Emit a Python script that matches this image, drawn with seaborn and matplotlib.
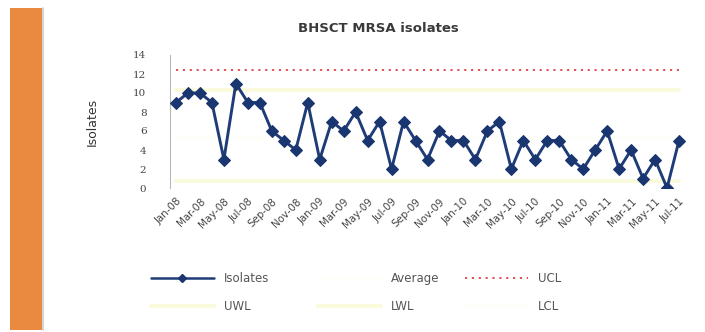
import matplotlib
matplotlib.use("Agg")
import matplotlib.pyplot as plt
from matplotlib.patches import Rectangle
from matplotlib.lines import Line2D
import numpy as np
import pandas as pd
import seaborn as sns

# Monthly MRSA isolates, Jan-08 .. Jul-11
months = ["Jan-08", "Feb-08", "Mar-08", "Apr-08", "May-08", "Jun-08", "Jul-08", "Aug-08",
          "Sep-08", "Oct-08", "Nov-08", "Dec-08", "Jan-09", "Feb-09", "Mar-09", "Apr-09",
          "May-09", "Jun-09", "Jul-09", "Aug-09", "Sep-09", "Oct-09", "Nov-09", "Dec-09",
          "Jan-10", "Feb-10", "Mar-10", "Apr-10", "May-10", "Jun-10", "Jul-10", "Aug-10",
          "Sep-10", "Oct-10", "Nov-10", "Dec-10", "Jan-11", "Feb-11", "Mar-11", "Apr-11",
          "May-11", "Jun-11", "Jul-11"]
isolates = [9, 10, 10, 9, 3, 11, 9, 9, 6, 5, 4, 9,
            3, 7, 6, 8, 5, 7, 2, 7, 5, 3, 6, 5,
            5, 3, 6, 7, 2, 5, 3, 5, 5, 3, 2, 4,
            6, 2, 4, 1, 3, 0, 5]

# Control chart levels
average_level = 5.3
ucl_level = 12.45
uwl_level = 10.3
lwl_level = 0.7
lcl_level = 0.0

y_ticks = [0, 2, 4, 6, 8, 10, 12, 14]

sns.set_theme(style="white")
plt.rcParams["font.family"] = ["DejaVu Sans"]

W, H = 705, 332
fig = plt.figure(figsize=(W / 100, H / 100), dpi=100)
fig.patch.set_facecolor("white")

# orange side band
fig.patches.append(Rectangle((10 / W, 1 - 330 / H), 32 / W, 322 / H,
                             transform=fig.transFigure, facecolor="#e98a40",
                             edgecolor="none", zorder=0))
fig.lines.append(Line2D([42.5 / W, 42.5 / W], [1 - 330 / H, 1 - 8 / H],
                        transform=fig.transFigure, color="#c9cdd3", lw=1.2))

ax = fig.add_axes([170 / W, 1 - 188 / H, 515 / W, 133 / H])

pos = np.arange(len(months))
df = pd.DataFrame({"pos": pos, "Isolates": isolates})
n = len(months)

levels = {
    "Average": (average_level, "#fefefa", "-", 2.5),
    "UCL": (ucl_level, "#d9454a", (0, (1.2, 2.6)), 1.3),
    "UWL": (uwl_level, "#fafadc", "-", 3.0),
    "LWL": (lwl_level, "#fafadc", "-", 3.0),
    "LCL": (lcl_level, "#fefefa", "-", 2.5),
}
handles = {}
for name, (lvl, col, ls, lw) in levels.items():
    sns.lineplot(x=pos, y=np.full(n, lvl), ax=ax, color=col, linestyle=ls,
                 linewidth=lw, zorder=1)
    handles[name] = Line2D([], [], color=col, linestyle=ls, linewidth=lw)

sns.lineplot(data=df, x="pos", y="Isolates", ax=ax, color="#1f3c78", linewidth=2.1,
             marker="D", markersize=6, markerfacecolor="#1a3670",
             markeredgecolor="#1a3670", zorder=3)
handles["Isolates"] = Line2D([], [], color="#1f3c78", linewidth=1.8, marker="D",
                            markersize=4.5, markerfacecolor="#1a3670",
                            markeredgecolor="#1a3670")

ax.set_xlim(-0.5, n - 0.5)
ax.set_ylim(0, 14)
ax.set_yticks(y_ticks)
ax.set_yticklabels([str(t) for t in y_ticks], family="DejaVu Serif", fontsize=7.5,
                   color="#444444")
ax.set_xticks(pos[::2])
ax.set_xticklabels(months[::2], rotation=45, ha="right", rotation_mode="anchor",
                   fontsize=7.4, color="#444444")
ax.tick_params(axis="y", length=0, pad=17)
ax.tick_params(axis="x", length=0, pad=6)
ax.set_xlabel("")
ax.set_ylabel("")
for side in ["top", "right", "bottom"]:
    ax.spines[side].set_visible(False)
ax.spines["left"].set_color("#b8b8b8")
ax.spines["left"].set_linewidth(0.8)
ax.patch.set_alpha(0)

fig.text(92 / W, 1 - 122 / H, "Isolates", rotation=90, ha="center", va="center",
         fontsize=9, color="#333333")
fig.text(378 / W, 1 - 29 / H, "BHSCT MRSA isolates", ha="center", va="center",
         fontsize=9.5, fontweight="bold", color="#3a3a3a")

# legend in three columns
columns = [(151, ["Isolates", "UWL"]), (318, ["Average", "LWL"]), (465, ["UCL", "LCL"])]
for x0, names in columns:
    leg = fig.legend([handles[k] for k in names], names, loc="upper left",
                     bbox_to_anchor=(x0 / W, 1 - 272 / H), frameon=False,
                     fontsize=8.5, handlelength=5.3, handletextpad=0.9,
                     labelspacing=1.25, borderpad=0, borderaxespad=0, labelcolor="#555555")

fig.savefig("out.png", dpi=100, facecolor="white")
